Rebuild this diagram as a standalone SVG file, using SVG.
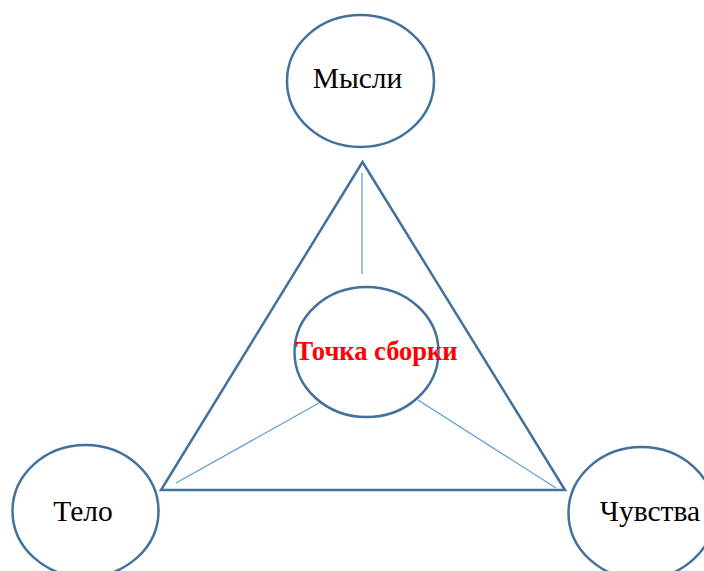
<svg xmlns="http://www.w3.org/2000/svg" width="704" height="571" viewBox="0 0 704 571">
<style>
.shape{fill:#fff;stroke:#41719c;stroke-width:2.5}
.tri{fill:none;stroke:#41719c;stroke-width:2.5;stroke-linejoin:miter}
.ln{stroke:#5b9bd5;stroke-width:1.2;fill:none}
.lbl{font-family:"Liberation Serif","Times New Roman",serif;font-size:29.5px;fill:#000;text-anchor:middle}
.ctr{font-family:"Liberation Serif","Times New Roman",serif;font-size:26.5px;font-weight:bold;fill:#ff0000;text-anchor:middle}
</style>
<rect width="704" height="571" fill="#fff"/>
<g id="triangle"><polygon class="tri" points="362.5,162 161,490 565,490"/></g>
<g id="connectors">
<line class="ln" x1="362" y1="173" x2="362" y2="274"/>
<line class="ln" x1="176" y1="483" x2="319" y2="403"/>
<line class="ln" x1="418" y1="400" x2="556" y2="488"/>
</g>
<g id="mysli"><ellipse class="shape" cx="360.5" cy="81" rx="73.5" ry="66"/><text class="lbl" x="357.5" y="88">Мысли</text></g>
<g id="telo"><ellipse class="shape" cx="85.5" cy="511" rx="73" ry="66"/><text class="lbl" x="83" y="521">Тело</text></g>
<g id="chuvstva"><ellipse class="shape" cx="641.5" cy="513" rx="73" ry="66"/><text class="lbl" x="650" y="521">Чувства</text></g>
<g id="tochka"><ellipse class="shape" cx="366.5" cy="352" rx="72" ry="65"/><text class="ctr" x="376.5" y="359.5">Точка сборки</text></g>
</svg>
